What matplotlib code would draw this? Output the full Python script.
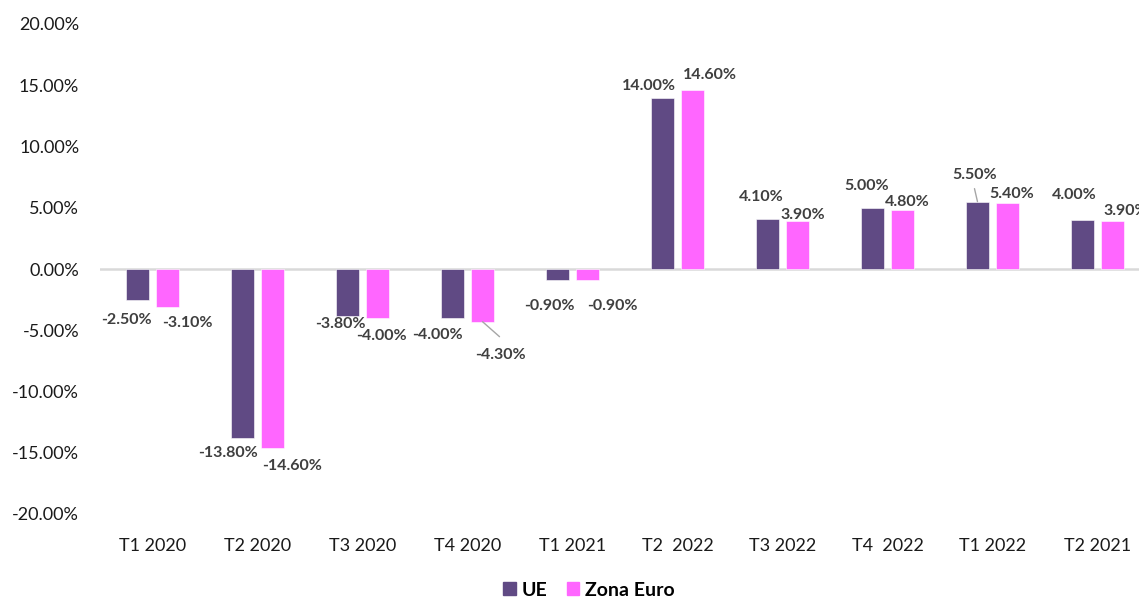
#!/usr/bin/env python3
"""
Variación trimestral del PIB: UE vs Zona Euro.
"""

import numpy as np
import matplotlib
matplotlib.use('Agg')
import matplotlib.pyplot as plt
from matplotlib.patches import Patch

plt.rcParams['font.family'] = ['Lato', 'DejaVu Sans']

# Data (percent)
quarters = ['T1 2020', 'T2 2020', 'T3 2020', 'T4 2020', 'T1 2021',
            'T2  2022', 'T3 2022', 'T4  2022', 'T1 2022', 'T2 2021']
ue = [-2.5, -13.8, -3.8, -4.0, -0.9, 14.0, 4.1, 5.0, 5.5, 4.0]
zona_euro = [-3.1, -14.6, -4.0, -4.3, -0.9, 14.6, 3.9, 4.8, 5.4, 3.9]

# Label offsets from the bar end, in pixels (dx, dy up)
ue_label_off = [(-11, -20), (-14, -15), (-7, -8), (-15, -17), (-8, -26),
                (-14, 11), (-6, 22), (-6, 22), (-3, 27), (-8, 25)]
ze_label_off = [(20, -16), (20, -18), (4, -18), (18, -33), (25, -26),
                (17, 15), (5, 6), (5, 8), (4, 9), (13, 10)]

C_UE = '#604A84'
C_ZE = '#FF66FF'
LBL = '#3F3F3F'

fig = plt.figure(figsize=(11.39, 5.98), dpi=100)
ax = fig.add_axes([100 / 1139, 84 / 598, 1050 / 1139, 490 / 598])

x = np.arange(len(quarters))
w = 0.22
off = 0.143
ax.bar(x - off, ue, w, color=C_UE, edgecolor='white', linewidth=0.4, zorder=2)
ax.bar(x + off, zona_euro, w, color=C_ZE, edgecolor='white', linewidth=0.4, zorder=2)

ax.axhline(0, color='#D9D9D9', linewidth=1.8, zorder=1)

# Data labels
for xi, v, (dx, dy) in zip(x - off, ue, ue_label_off):
    ax.annotate(f'{v:.2f}%', xy=(xi, v), xytext=(dx, dy), textcoords='offset pixels',
                ha='center', va='center', fontsize=11.5, fontweight='bold', color=LBL,
                annotation_clip=False)
for xi, v, (dx, dy) in zip(x + off, zona_euro, ze_label_off):
    ax.annotate(f'{v:.2f}%', xy=(xi, v), xytext=(dx, dy), textcoords='offset pixels',
                ha='center', va='center', fontsize=11.5, fontweight='bold', color=LBL,
                annotation_clip=False)

# Leader lines
ax.annotate('', xy=(x[3] + off, zona_euro[3]), xytext=(17, -15), textcoords='offset pixels',
            arrowprops=dict(arrowstyle='-', color='#A6A6A6', lw=1, shrinkA=0, shrinkB=0))
ax.annotate('', xy=(x[8] - off, ue[8]), xytext=(-3, 13), textcoords='offset pixels',
            arrowprops=dict(arrowstyle='-', color='#A6A6A6', lw=1, shrinkA=0, shrinkB=0))

ax.set_xlim(-0.5, len(quarters) - 0.5)
ax.set_ylim(-20, 20)
ax.set_yticks(np.arange(-20, 21, 5))
ax.set_yticklabels([f'{t:.2f}%' for t in np.arange(-20, 21, 5)])
ax.set_xticks(x)
ax.set_xticklabels(quarters)
ax.tick_params(axis='both', length=0, labelsize=13, colors='#1a1a1a')
ax.tick_params(axis='y', pad=15)
ax.tick_params(axis='x', pad=17)
for s in ax.spines.values():
    s.set_visible(False)

handles = [Patch(color=C_UE, label='UE'), Patch(color=C_ZE, label='Zona Euro')]
fig.legend(handles=handles, loc='center', bbox_to_anchor=(589 / 1139, 8 / 598),
           ncol=2, frameon=False, prop={'weight': 'bold', 'size': 14},
           handlelength=0.65, handleheight=0.65, handletextpad=0.3, columnspacing=1.0)

plt.savefig('out.png', dpi=100)
